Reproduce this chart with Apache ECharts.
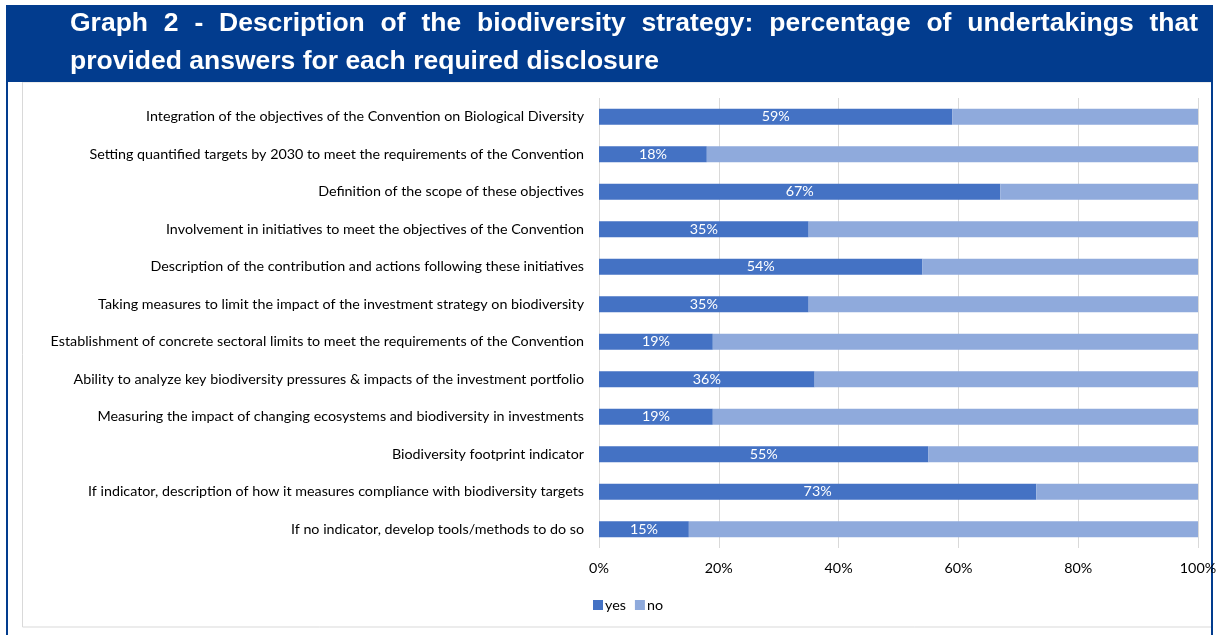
<!DOCTYPE html>
<html>
<head>
<meta charset="utf-8">
<script src="https://cdn.jsdelivr.net/npm/echarts@6/dist/echarts.min.js"></script>
<style>
html,body{margin:0;padding:0;background:#fff;}
#chart{width:1230px;height:635px;}
</style>
</head>
<body>
<div id="chart"></div>
<script>
const titleLine1 = "Graph 2 - Description of the biodiversity strategy: percentage of undertakings that";
const titleLine2 = "provided answers for each required disclosure";
const categories = [
  "Integration of the objectives of the Convention on Biological Diversity",
  "Setting quantified targets by 2030 to meet the requirements of the Convention",
  "Definition of the scope of these objectives",
  "Involvement in initiatives to meet the objectives of the Convention",
  "Description of the contribution and actions following these initiatives",
  "Taking measures to limit the impact of the investment strategy on biodiversity",
  "Establishment of concrete sectoral limits to meet the requirements of the Convention",
  "Ability to analyze key biodiversity pressures & impacts of the investment portfolio",
  "Measuring the impact of changing ecosystems and biodiversity in investments",
  "Biodiversity footprint indicator",
  "If indicator, description of how it measures compliance with biodiversity targets",
  "If no indicator, develop tools/methods to do so"
];
const yesValues = [59, 18, 67, 35, 54, 35, 19, 36, 19, 55, 73, 15];
const noValues  = [41, 82, 33, 65, 46, 65, 81, 64, 81, 45, 27, 85];
const seriesNames = ["yes", "no"];

const BLUE = "#023c8e";
const titleFont = 'bold 26.5px "Liberation Sans", Arial, sans-serif';
const FS = 14.3;

function justifiedWords(text, x0, x1, y) {
  const c = document.createElement('canvas').getContext('2d');
  c.font = titleFont;
  const words = text.split(' ');
  const widths = words.map(w => c.measureText(w).width);
  const total = widths.reduce((a, b) => a + b, 0);
  const gap = (x1 - x0 - total) / (words.length - 1);
  let x = x0;
  return words.map((w, i) => {
    const el = {
      type: 'text', left: x, top: y,
      style: { text: w, fill: '#fff', font: titleFont }
    };
    x += widths[i] + gap;
    return el;
  });
}

const chart = echarts.init(document.getElementById('chart'));
const option = {
  animation: false,
  backgroundColor: '#fff',
  color: ['#4472c4', '#8faadc'],
  graphic: [
    { type: 'rect', shape: { x: 6, y: 5, width: 1207, height: 77 }, style: { fill: BLUE } },
    { type: 'rect', shape: { x: 6, y: 82, width: 2, height: 553 }, style: { fill: BLUE } },
    { type: 'rect', shape: { x: 1211, y: 82, width: 2, height: 553 }, style: { fill: BLUE } },
    { type: 'rect', shape: { x: 22.5, y: 82, width: 1189, height: 545 }, style: { fill: 'none', stroke: '#d9d9d9', lineWidth: 1 }, z: -1 },
    ...justifiedWords(titleLine1, 70, 1198, 10),
    { type: 'text', left: 70, top: 48, style: { text: titleLine2, fill: '#fff', font: titleFont } }
  ],
  legend: {
    data: seriesNames,
    left: 588, top: 593,
    itemWidth: 10, itemHeight: 10, itemGap: 9,
    icon: 'rect',
    textStyle: { fontFamily: 'Lato', fontSize: FS, color: '#000', padding: [0, 0, 0, -3] }
  },
  grid: { left: 599, right: 32, top: 98, bottom: 87, containLabel: false },
  xAxis: {
    type: 'value', min: 0, max: 100, interval: 20,
    axisLabel: { formatter: '{value}%', fontFamily: 'Lato', fontSize: FS, color: '#000', margin: 13 },
    splitLine: { lineStyle: { color: '#d9d9d9' } },
    axisLine: { show: false }, axisTick: { show: false }
  },
  yAxis: {
    type: 'category', data: categories, inverse: true,
    axisLabel: { fontFamily: 'Lato', fontSize: FS, color: '#000', margin: 15 },
    axisLine: { show: false }, axisTick: { show: false }
  },
  series: [
    {
      name: seriesNames[0], type: 'bar', stack: 'a', data: yesValues, barWidth: 16,
      label: { show: true, position: 'inside', formatter: '{c}%', color: '#fff', fontFamily: 'Lato', fontSize: FS }
    },
    { name: seriesNames[1], type: 'bar', stack: 'a', data: noValues, barWidth: 16 }
  ]
};
chart.setOption(option);
</script>
</body>
</html>
